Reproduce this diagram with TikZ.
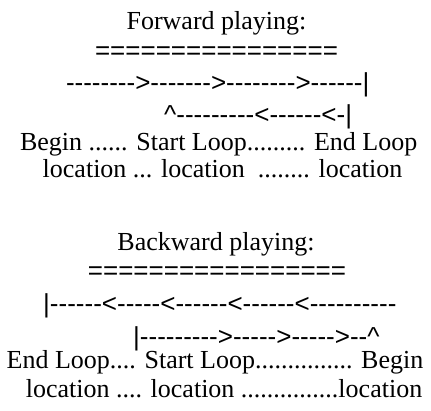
\documentclass[tikz,border=0pt]{standalone}
\usepackage{fontspec}
\setmainfont{Liberation Serif}
\newfontfamily\arrowfont{Liberation Sans}[Ligatures=TeXOff]
\begin{document}
\begin{tikzpicture}[x=1pt,y=-1pt,
	words/.style={inner sep=0pt,font=\fontsize{26}{30}\selectfont},
	ascii/.style={inner sep=0pt,font=\fontsize{26}{30}\selectfont\arrowfont}]
	\useasboundingbox (0,0) rectangle (431,411);
	% forward
	\node[words,anchor=base] (fwd) at (216.5,29.3) {Forward playing:};
	\node[ascii,anchor=base] (fwdeq) at (216.5,59.5) {================};
	\node[ascii,anchor=base west] (fwdtop) at (65.8,92) {-------->------->-------->------|};
	\node[ascii,anchor=base west] (fwdback) at (164,124) {\textasciicircum---------<------<-|};
	\node[words,anchor=base] (fwdname) at (218.7,151) {Begin ...... Start Loop......... End Loop};
	\node[words,anchor=base] (fwdloc) at (222.5,178) {location ... location \ ........ location};
	% backward
	\node[words,anchor=base] (bwd) at (216,251) {Backward playing:};
	\node[ascii,anchor=base] (bwdeq) at (217,279.5) {=================};
	\node[ascii,anchor=base west] (bwdtop) at (43,313) {|------<-----<------<------<----------};
	\node[ascii,anchor=base west] (bwdback) at (133,346) {|--------->----->----->--\textasciicircum};
	\node[words,anchor=base] (bwdname) at (215,369) {End Loop.... Start Loop............... Begin};
	\node[words,anchor=base] (bwdloc) at (224,398) {location .... location ...............location};
\end{tikzpicture}
\end{document}
